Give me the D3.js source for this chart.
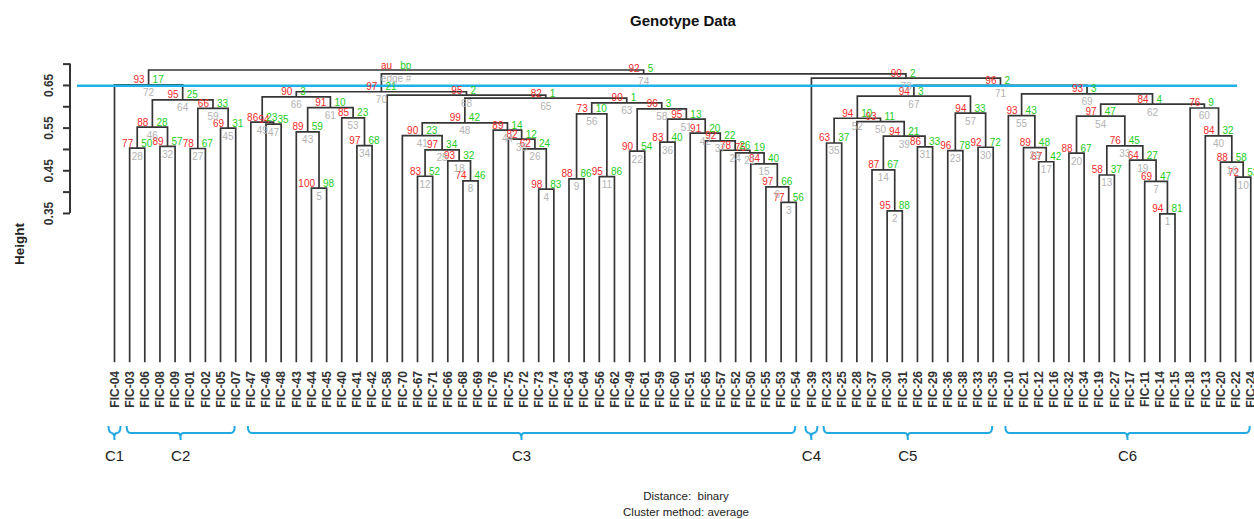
<!DOCTYPE html>
<html>
<head>
<meta charset="utf-8">
<script src="https://cdn.jsdelivr.net/npm/d3@7"></script>
<style>
  body { margin: 0; background: #fff; }
  svg { display: block; }
  text { font-family: "Liberation Sans", Arial, Helvetica, sans-serif; }
</style>
</head>
<body>
<svg id="chart" width="1254" height="519"></svg>
<script>
// Leaf order along the x axis
const leaves = [
  "FIC-04","FIC-03","FIC-06","FIC-08","FIC-09","FIC-01","FIC-02","FIC-05","FIC-07",
  "FIC-47","FIC-46","FIC-48","FIC-43","FIC-44","FIC-45","FIC-40","FIC-41","FIC-42",
  "FIC-58","FIC-70","FIC-67","FIC-71","FIC-66","FIC-68","FIC-69","FIC-76","FIC-75",
  "FIC-72","FIC-73","FIC-74","FIC-63","FIC-64","FIC-56","FIC-62","FIC-49","FIC-61",
  "FIC-59","FIC-60","FIC-51","FIC-65","FIC-57","FIC-52","FIC-50","FIC-55","FIC-53",
  "FIC-54","FIC-39","FIC-23","FIC-25","FIC-28","FIC-37","FIC-30","FIC-31","FIC-26",
  "FIC-29","FIC-36","FIC-38","FIC-33","FIC-35","FIC-10","FIC-21","FIC-12","FIC-16",
  "FIC-32","FIC-34","FIC-19","FIC-27","FIC-17","FIC-11","FIC-14","FIC-15","FIC-18",
  "FIC-13","FIC-20","FIC-22","FIC-24"
];

// Merge steps, in edge-number order (1..75). A string is a leaf, a number is an earlier merge.
const merges = [
  ["FIC-14","FIC-15"], ["FIC-30","FIC-31"], ["FIC-53","FIC-54"], ["FIC-73","FIC-74"], ["FIC-44","FIC-45"],
  ["FIC-55",3], ["FIC-11",1], ["FIC-68","FIC-69"], ["FIC-63","FIC-64"], ["FIC-22","FIC-24"],
  ["FIC-56","FIC-62"], ["FIC-67","FIC-71"], ["FIC-19","FIC-27"], ["FIC-37",2], ["FIC-50",6],
  ["FIC-20",10], ["FIC-12","FIC-16"], ["FIC-66",8], ["FIC-17",7], ["FIC-32","FIC-34"],
  ["FIC-52",15], ["FIC-49","FIC-61"], ["FIC-36","FIC-38"], ["FIC-57",21], [12,18],
  ["FIC-72",4], ["FIC-01","FIC-02"], ["FIC-03","FIC-06"], ["FIC-21",17], ["FIC-33","FIC-35"],
  ["FIC-26","FIC-29"], ["FIC-08","FIC-09"], [13,19], ["FIC-41","FIC-42"], ["FIC-23","FIC-25"],
  ["FIC-59","FIC-60"], ["FIC-65",24], ["FIC-75",26], [14,31], ["FIC-13",16],
  ["FIC-70",25], ["FIC-51",37], ["FIC-43",5], ["FIC-76",38], ["FIC-05","FIC-07"],
  [28,32], ["FIC-46","FIC-48"], [41,44], ["FIC-47",47], ["FIC-28",39],
  [36,42], [35,50], ["FIC-40",34], [20,33], ["FIC-10",29],
  [9,11], [23,30], [22,51], [27,45], ["FIC-18",40],
  [43,53], [54,60], [56,58], [46,59], [48,63],
  [49,61], [52,57], ["FIC-58",65], [55,62], [66,68],
  [67,69], ["FIC-04",64], ["FIC-39",71], [70,73], [72,74]
];

// Merge heights (binary distance, average linkage)
const heights = [
  0.348, 0.355, 0.375, 0.406, 0.408, 0.411, 0.424, 0.425, 0.430, 0.434,
  0.435, 0.436, 0.439, 0.451, 0.465, 0.469, 0.470, 0.472, 0.474, 0.490,
  0.491, 0.495, 0.496, 0.497, 0.498, 0.500, 0.501, 0.502, 0.503, 0.504,
  0.505, 0.506, 0.507, 0.508, 0.514, 0.516, 0.519, 0.523, 0.530, 0.5305,
  0.531, 0.537, 0.540, 0.544, 0.549, 0.551, 0.558, 0.561, 0.563, 0.564,
  0.570, 0.572, 0.573, 0.577, 0.578, 0.582, 0.584, 0.594, 0.595, 0.596,
  0.597, 0.605, 0.608, 0.615, 0.619, 0.622, 0.624, 0.626, 0.629, 0.634,
  0.649, 0.650, 0.666, 0.676, 0.685
];

// Approximately unbiased p-values (%)
const au = [
  94, 95, 77, 98, 100, 97, 69, 74, 88, 72,
  95, 83, 58, 87, 84, 88, 67, 93, 64, 88,
  75, 90, 96, 78, 97, 62, 78, 77, 89, 92,
  86, 89, 76, 97, 63, 83, 92, 82, 94, 84,
  90, 91, 89, 89, 69, 88, 94, 99, 86, 93,
  95, 94, 85, 97, 93, 73, 94, 96, 66, 76,
  91, 84, 90, 95, 82, 90, 94, 95, 93, 97,
  96, 93, 90, 92, "au"
];

// Bootstrap probabilities (%)
const bp = [
  81, 88, 56, 83, 98, 66, 47, 46, 86, 53,
  86, 52, 37, 67, 40, 58, 42, 32, 27, 67,
  19, 54, 78, 26, 34, 24, 67, 50, 48, 72,
  33, 57, 45, 68, 37, 40, 22, 12, 21, 32,
  23, 20, 59, 14, 31, 28, 35, 42, 23, 11,
  13, 10, 23, 47, 43, 10, 33, 3, 33, 9,
  10, 4, 1, 25, 1, 3, 3, 2, 3, 21,
  2, 17, 2, 5, "bp"
];

// Height axis
const tickValues = [0.35, 0.40, 0.45, 0.50, 0.55, 0.60, 0.65, 0.70];
const tickLabels = ["0.35", "", "0.45", "", "0.55", "", "0.65", ""];

// Cut height and the resulting groups
const cutHeight = 0.648;
const clusters = [
  { label: "C1", first: "FIC-04", last: "FIC-04" },
  { label: "C2", first: "FIC-03", last: "FIC-07" },
  { label: "C3", first: "FIC-47", last: "FIC-54" },
  { label: "C4", first: "FIC-39", last: "FIC-39" },
  { label: "C5", first: "FIC-23", last: "FIC-35" },
  { label: "C6", first: "FIC-10", last: "FIC-24" }
];

const svg = d3.select("#chart");

const x = d3.scalePoint().domain(leaves).range([114.5, 114.5 + 75 * 15.15]);
const y = d3.scaleLinear().domain([0, 0.70]).range([362.3, 362.3 - 0.70 * 426.7]);

// Node coordinates: internal x is the mean of its two children
const nodeX = [];
const cx = c => (typeof c === "string" ? x(c) : nodeX[c - 1]);
const ch = c => (typeof c === "string" ? 0 : heights[c - 1]);
merges.forEach((m, i) => { nodeX[i] = (cx(m[0]) + cx(m[1])) / 2; });

const nodes = merges.map((m, i) => ({
  edge: i + 1, x: nodeX[i], h: heights[i],
  xl: cx(m[0]), hl: ch(m[0]), xr: cx(m[1]), hr: ch(m[1]),
  au: au[i], bp: bp[i]
}));

// Title
svg.append("text")
  .attr("x", 683).attr("y", 26)
  .attr("text-anchor", "middle")
  .style("font-size", "15px").style("font-weight", "bold").style("fill", "#111")
  .text("Genotype Data");

// Y axis
const gAxis = svg.append("g").attr("transform", "translate(70,0)");
gAxis.call(d3.axisLeft(y).tickValues(tickValues).tickFormat((d, i) => tickLabels[i]).tickSize(7));
gAxis.select(".domain").remove();
gAxis.append("line")
  .attr("x1", 0).attr("x2", 0)
  .attr("y1", y(tickValues[0])).attr("y2", y(tickValues[tickValues.length - 1]))
  .attr("stroke", "#333").attr("stroke-width", 2);
gAxis.selectAll(".tick line").attr("stroke", "#333").attr("stroke-width", 2);
gAxis.selectAll(".tick text")
  .attr("transform", "rotate(-90)")
  .attr("x", 0).attr("y", -17).attr("dy", 0)
  .style("text-anchor", "middle")
  .style("font-size", "12px").style("font-weight", "bold").style("fill", "#333");

svg.append("text")
  .attr("transform", "translate(24,244) rotate(-90)")
  .attr("text-anchor", "middle")
  .style("font-size", "13.5px").style("font-weight", "bold").style("fill", "#222")
  .text("Height");

// Dendrogram branches
svg.append("g")
  .selectAll("path")
  .data(nodes)
  .join("path")
  .attr("d", d => `M${d.xl},${y(d.hl)}V${y(d.h)}H${d.xr}V${y(d.hr)}`)
  .attr("fill", "none")
  .attr("stroke", "#363636")
  .attr("stroke-width", 1.7);

// Cut line
svg.append("line")
  .attr("x1", 77).attr("x2", 1237)
  .attr("y1", y(cutHeight)).attr("y2", y(cutHeight))
  .attr("stroke", "#1fb1e8").attr("stroke-width", 2.5);

// au / bp / edge labels
const gLab = svg.append("g").style("font-size", "10px");
gLab.selectAll("text.au").data(nodes).join("text")
  .attr("class", "au")
  .attr("x", d => d.x - 4).attr("y", d => y(d.h) - 5).attr("dy", "0.35em")
  .attr("text-anchor", "end").style("fill", "#f22a2a")
  .text(d => d.au);
gLab.selectAll("text.bp").data(nodes).join("text")
  .attr("class", "bp")
  .attr("x", d => d.x + 4).attr("y", d => y(d.h) - 5).attr("dy", "0.35em")
  .attr("text-anchor", "start").style("fill", "#22cc22")
  .text(d => d.bp);
gLab.selectAll("text.edge").data(nodes).join("text")
  .attr("class", "edge")
  .attr("x", d => d.x).attr("y", d => y(d.h) + 8).attr("dy", "0.35em")
  .attr("text-anchor", "middle").style("fill", "#b3b3b3")
  .text(d => (d.edge === merges.length ? "edge #" : d.edge));

// Leaf labels
svg.append("g")
  .selectAll("text")
  .data(leaves)
  .join("text")
  .attr("transform", d => `translate(${x(d)},371) rotate(-90)`)
  .attr("dy", "0.35em")
  .attr("text-anchor", "end")
  .style("font-size", "12px").style("font-weight", "bold").style("fill", "#333")
  .text(d => d);

// Group brackets
const gBr = svg.append("g");
clusters.forEach(c => {
  const single = c.first === c.last;
  const x0 = x(c.first) - (single ? 6 : 3);
  const x1 = x(c.last) + (single ? 6 : -1);
  const xm = (x0 + x1) / 2;
  const top = 426, mid = 433, bot = 440;
  gBr.append("path")
    .attr("d", `M${x0},${top}Q${x0},${mid} ${x0 + 4},${mid}H${xm - 3}Q${xm},${mid} ${xm},${bot}` +
               `M${xm},${mid + 3}Q${xm},${mid} ${xm + 3},${mid}H${x1 - 4}Q${x1},${mid} ${x1},${top}`)
    .attr("fill", "none").attr("stroke", "#22a9e0").attr("stroke-width", 2);
  gBr.append("text")
    .attr("x", xm).attr("y", 461)
    .attr("text-anchor", "middle")
    .style("font-size", "15px").style("fill", "#222")
    .text(c.label);
});

// Method notes
svg.append("text").attr("x", 686).attr("y", 500).attr("text-anchor", "middle")
  .style("font-size", "11.5px").style("fill", "#222").style("white-space", "pre")
  .text("Distance:  binary");
svg.append("text").attr("x", 686).attr("y", 516).attr("text-anchor", "middle")
  .style("font-size", "11.5px").style("fill", "#222")
  .text("Cluster method: average");
</script>
</body>
</html>
